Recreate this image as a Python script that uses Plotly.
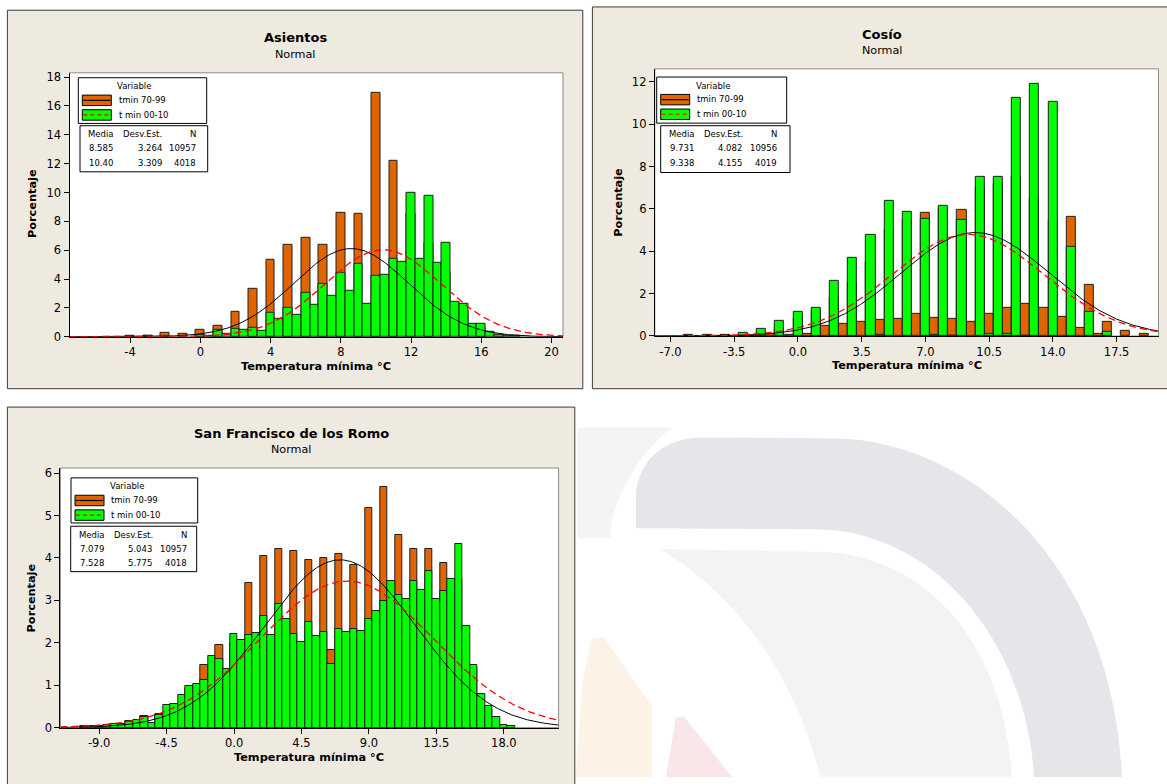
import numpy as np
import plotly.graph_objects as go

W, H = 1167, 784
FONT = "DejaVu Sans"

# ---------------- data ----------------
series_names = ["tmin 70-99", "t min 00-10"]
x_title = "Temperatura mínima °C"
y_title = "Porcentaje"
subtitle = "Normal"
legend_title = "Variable"
table_header = ["Media", "Desv.Est.", "N"]
BIN = 0.5

# Asientos
asientos_title = "Asientos"
asientos_orange_x = [-4, -3, -2, -1, 0, 1, 2, 3, 4, 5, 6, 7, 8, 9, 10, 11, 12, 13, 14, 15, 16, 17]
asientos_orange_y = [0.07, 0.03, 0.30, 0.23, 0.47, 0.73, 1.76, 3.29, 5.34, 6.37, 6.84, 6.37, 8.62, 8.51,
                     16.93, 12.18, 8.5, 6.5, 4.5, 1.8, 0.6, 0.1]
asientos_green_x = [-3, 0, 0.5, 1, 1.5, 2, 2.5, 3, 3.5, 4, 4.5, 5, 5.5, 6, 6.5, 7, 7.5, 8, 8.5, 9, 9.5,
                    10, 10.5, 11, 11.5, 12, 12.5, 13, 13.5, 14, 14.5, 15, 15.5, 16, 16.5, 17, 17.5, 18]
asientos_green_y = [0.05, 0.10, 0.07, 0.47, 0.23, 0.56, 0.47, 0.61, 0.40, 1.64, 1.23, 2.03, 1.50, 3.06, 2.19,
                    3.67, 2.87, 4.43, 3.19, 5.04, 2.28, 4.22, 4.29, 5.38, 5.20, 9.99, 5.41, 9.79, 5.11, 6.48,
                    2.44, 2.26, 0.89, 0.89, 0.32, 0.14, 0.05, 0.03]
asientos_mean = [8.585, 10.40]
asientos_sd = [3.264, 3.309]
asientos_n = [10957, 4018]
asientos_xticks = [-4, 0, 4, 8, 12, 16, 20]
asientos_xticklabels = ["-4", "0", "4", "8", "12", "16", "20"]
asientos_yticks = [0, 2, 4, 6, 8, 10, 12, 14, 16, 18]
asientos_yticklabels = ["0", "2", "4", "6", "8", "10", "12", "14", "16", "18"]

# Cosío
cosio_title = "Cosío"
cosio_orange_x = [-6, -5, -4, -3, -2.5, -2, -1.5, -1, -0.5, 0, 0.5, 1, 1.5, 2, 2.5, 3, 3.5, 4, 4.5, 5, 5.5,
                  6, 6.5, 7, 7.5, 8, 8.5, 9, 9.5, 10, 10.5, 11, 11.5, 12, 12.5, 13, 13.5, 14, 14.5, 15,
                  15.5, 16, 16.5, 17, 18, 19]
cosio_orange_y = [0.04, 0.04, 0.06, 0.10, 0.03, 0.20, 0.08, 0.40, 0.05, 0.80, 0.10, 1.20, 0.46, 1.80, 0.58,
                  2.50, 0.68, 3.50, 0.74, 5.00, 0.79, 5.50, 1.06, 5.83, 0.87, 6.00, 0.83, 5.94, 0.68, 7.00,
                  1.06, 7.20, 1.31, 7.50, 1.50, 6.50, 1.31, 5.50, 0.91, 5.63, 0.39, 2.41, 0.11, 0.65, 0.25,
                  0.10]
cosio_green_x = [-4, -3, -2, -1, 0, 1, 2, 3, 4, 4.5, 5, 6, 7, 7.5, 8, 8.5, 9, 10, 10.5, 11, 11.5, 12, 12.5,
                 13, 14, 15, 16, 17]
cosio_green_y = [0.02, 0.13, 0.35, 0.72, 1.15, 1.35, 2.60, 3.67, 4.77, 0.06, 6.40, 5.88, 5.55, 0.06, 6.17,
                 0.02, 5.47, 7.54, 0.11, 7.54, 0.11, 11.25, 0.03, 11.92, 11.07, 4.23, 1.12, 0.19]
cosio_mean = [9.731, 9.338]
cosio_sd = [4.082, 4.155]
cosio_n = [10956, 4019]
cosio_xticks = [-7.0, -3.5, 0.0, 3.5, 7.0, 10.5, 14.0, 17.5]
cosio_xticklabels = ["-7.0", "-3.5", "0.0", "3.5", "7.0", "10.5", "14.0", "17.5"]
cosio_yticks = [0, 2, 4, 6, 8, 10, 12]
cosio_yticklabels = ["0", "2", "4", "6", "8", "10", "12"]

# San Francisco de los Romo
sf_title = "San Francisco de los Romo"
sf_orange_x = [-10, -9, -8, -7, -6, -5, -4, -3, -2, -1, 0, 1, 2, 3, 4, 5, 6, 6.5, 7, 8, 9, 10, 11, 12, 13,
               14, 15, 16, 17]
sf_orange_y = [0.04, 0.05, 0.08, 0.15, 0.27, 0.33, 0.50, 0.90, 1.47, 1.95, 2.00, 3.41, 4.05, 4.20, 4.16,
               3.95, 4.00, 1.82, 4.09, 3.84, 5.17, 5.67, 4.55, 4.22, 4.20, 3.88, 3.50, 1.40, 0.45]
sf_green_x = [-10, -9.5, -9, -8.5, -8, -7.5, -7, -6.5, -6, -5.5, -5, -4.5, -4, -3.5, -3, -2.5, -2, -1.5,
              -1, -0.5, 0, 0.5, 1, 1.5, 2, 2.5, 3, 3.5, 4, 4.5, 5, 5.5, 6, 6.5, 7, 7.5, 8, 8.5, 9, 9.5,
              10, 10.5, 11, 11.5, 12, 12.5, 13, 13.5, 14, 14.5, 15, 15.5, 16, 16.5, 17, 17.5, 18, 18.5]
sf_green_y = [0.02, 0.03, 0.05, 0.06, 0.08, 0.09, 0.14, 0.17, 0.25, 0.11, 0.29, 0.54, 0.56, 0.77, 0.97,
              1.04, 1.12, 1.69, 1.62, 1.39, 2.21, 2.07, 2.19, 2.22, 2.64, 2.19, 2.92, 2.57, 2.21, 2.01,
              2.48, 2.16, 2.25, 1.50, 2.32, 2.25, 2.33, 2.28, 2.55, 2.74, 2.98, 3.45, 3.13, 3.04, 3.45,
              3.25, 3.70, 3.04, 3.22, 3.50, 4.34, 2.40, 1.47, 0.79, 0.50, 0.26, 0.07, 0.03]
sf_mean = [7.079, 7.528]
sf_sd = [5.043, 5.775]
sf_n = [10957, 4018]
sf_xticks = [-9.0, -4.5, 0.0, 4.5, 9.0, 13.5, 18.0]
sf_xticklabels = ["-9.0", "-4.5", "0.0", "4.5", "9.0", "13.5", "18.0"]
sf_yticks = [0, 1, 2, 3, 4, 5, 6]
sf_yticklabels = ["0", "1", "2", "3", "4", "5", "6"]

# ---------------- styles / layout (pixels) ----------------
ORANGE = "#E06400"
GREEN = "#00FF00"
BAR_LINE = "#1E1E1E"
PANEL_BG = "#EEEAE0"
PANEL_LINE = "#3C3C3C"

panels = [
    dict(title=asientos_title, ox=asientos_orange_x, oy=asientos_orange_y, gx=asientos_green_x,
         gy=asientos_green_y, mean=asientos_mean, sd=asientos_sd, n=asientos_n,
         xt=asientos_xticks, xtl=asientos_xticklabels, yt=asientos_yticks, ytl=asientos_yticklabels,
         frame=(7.4, 7.3, 582.8, 390.7), plot=(69.5, 70.7, 563, 338), xr=[-7.45, 20.65], yr=[0, 18.3],
         title_xy=(295, 35), sub_y=51.7, xtitle_xy=(316, 368), ytitle_xy=(32.6, 203),
         box1=(78.3, 75.7, 206.7, 122), box2=(80, 124.3, 207.7, 171)),
    dict(title=cosio_title, ox=cosio_orange_x, oy=cosio_orange_y, gx=cosio_green_x, gy=cosio_green_y,
         mean=cosio_mean, sd=cosio_sd, n=cosio_n,
         xt=cosio_xticks, xtl=cosio_xticklabels, yt=cosio_yticks, ytl=cosio_yticklabels,
         frame=(592.4, 4, 1175, 390.7), plot=(654.8, 66.7, 1158.5, 337.3), xr=[-7.86, 19.8], yr=[0, 12.62],
         title_xy=(882, 31.7), sub_y=48.3, xtitle_xy=(906.6, 367.3), ytitle_xy=(617.7, 201.7),
         box1=(656.7, 75, 786.7, 121.7), box2=(660.7, 124.3, 790, 171.7)),
    dict(title=sf_title, ox=sf_orange_x, oy=sf_orange_y, gx=sf_green_x, gy=sf_green_y,
         mean=sf_mean, sd=sf_sd, n=sf_n,
         xt=sf_xticks, xtl=sf_xticklabels, yt=sf_yticks, ytl=sf_yticklabels,
         frame=(7.4, 409.3, 574.8, 795), plot=(60.3, 471, 558.6, 734), xr=[-11.59, 21.65], yr=[0, 6.12],
         title_xy=(291, 436), sub_y=452.3, xtitle_xy=(309.5, 764.3), ytitle_xy=(31.4, 602.7),
         box1=(71, 481, 197.7, 526.7), box2=(70.7, 530, 196.7, 576)),
]


def X(p):
    return p / W


def Y(p):
    return 1 - p / H


shapes = []
annotations = []


def rect(x0, y0, x1, y1, fill, line=None, lw=1, layer="below"):
    shapes.append(dict(type="rect", xref="paper", yref="paper", x0=X(x0), x1=X(x1), y0=Y(y1), y1=Y(y0),
                       fillcolor=fill, line=dict(color=line or "rgba(0,0,0,0)", width=lw if line else 0),
                       layer=layer))


def hline(x0, x1, y, color, lw=1, dash="solid", layer="above"):
    shapes.append(dict(type="line", xref="paper", yref="paper", x0=X(x0), x1=X(x1), y0=Y(y), y1=Y(y),
                       line=dict(color=color, width=lw, dash=dash), layer=layer))


def path(cmds, fill):
    parts = []
    for c in cmds:
        op, pts = c[0], c[1:]
        parts.append(op + " " + " ".join(f"{X(a):.5f},{Y(b):.5f}" for a, b in pts))
    shapes.append(dict(type="path", xref="paper", yref="paper", path=" ".join(parts) + " Z",
                       fillcolor=fill, line=dict(width=0), layer="below"))


def text(x, y, s, size=8.5, bold=False, xanchor="center", angle=0, color="#000"):
    annotations.append(dict(x=X(x), y=Y(y), xref="paper", yref="paper", text=f"<b>{s}</b>" if bold else s,
                            showarrow=False, xanchor=xanchor, yanchor="middle", textangle=angle,
                            font=dict(family=FONT, size=size, color=color)))


# faint watermark in the lower-right (decorative background)
path([("M", (578, 430)), ("L", (672, 430)), ("C", (640, 455), (612, 500), (610, 542)), ("L", (578, 542))],
     "#F4F4F6")
path([("M", (636, 532)), ("L", (636, 498)), ("C", (638, 465), (662, 441), (700, 440)), ("L", (840, 441)),
      ("C", (970, 446), (1112, 565), (1122, 784)), ("L", (1034, 784)),
      ("C", (1026, 645), (935, 537), (820, 533))], "#E6E5EA")
path([("M", (660, 553)), ("L", (830, 556)), ("C", (935, 566), (1004, 655), (1012, 784)), ("L", (820, 784)),
      ("C", (798, 690), (742, 602), (660, 553))], "#F3F3F5")
path([("M", (592, 643)), ("L", (604, 643)), ("L", (652, 712)), ("L", (652, 784)), ("L", (576, 784)),
      ("L", (582, 690))], "#FDF2E6")
path([("M", (676, 723)), ("L", (684, 723)), ("L", (732, 784)), ("L", (666, 784))], "#F9E6E8")

fig = go.Figure()

for i, p in enumerate(panels):
    sfx = "" if i == 0 else str(i + 1)
    xa, ya = "x" + sfx, "y" + sfx
    fx0, fy0, fx1, fy1 = p["frame"]
    px0, py0, px1, py1 = p["plot"]
    rect(fx0, fy0, fx1, fy1, PANEL_BG, PANEL_LINE, 1)
    rect(px0, py0, px1, py1, "#FFFFFF", "#8A8A8A", 1)

    fig.add_trace(go.Bar(x=p["ox"], y=p["oy"], width=BIN, marker=dict(color=ORANGE, line=dict(color=BAR_LINE, width=1)),
                         xaxis=xa, yaxis=ya, showlegend=False, hoverinfo="skip"))
    fig.add_trace(go.Bar(x=p["gx"], y=p["gy"], width=BIN, marker=dict(color=GREEN, line=dict(color=BAR_LINE, width=1)),
                         xaxis=xa, yaxis=ya, showlegend=False, hoverinfo="skip"))
    xs = np.linspace(p["xr"][0], p["xr"][1], 400)
    for k, (col, dash, lw) in enumerate([("#000000", "solid", 1), ("#FF0000", "7px,4px", 1.3)]):
        m, s = p["mean"][k], p["sd"][k]
        ys = 100 * BIN * np.exp(-0.5 * ((xs - m) / s) ** 2) / (s * np.sqrt(2 * np.pi))
        fig.add_trace(go.Scatter(x=xs, y=ys, mode="lines", line=dict(color=col, width=lw, dash=dash),
                                 xaxis=xa, yaxis=ya, showlegend=False, hoverinfo="skip"))

    axis_common = dict(showgrid=False, zeroline=False, showline=True, linecolor="#000", linewidth=1,
                       ticks="outside", ticklen=5, tickcolor="#000", tickwidth=1,
                       tickfont=dict(family=FONT, size=11.5, color="#000"), fixedrange=True)
    fig.update_layout(**{
        ("xaxis" + sfx): dict(domain=[X(px0), X(px1)], range=p["xr"], tickvals=p["xt"], ticktext=p["xtl"],
                              anchor=ya, **axis_common),
        ("yaxis" + sfx): dict(domain=[Y(py1), Y(py0)], range=p["yr"], tickvals=p["yt"], ticktext=p["ytl"],
                              anchor=xa, **axis_common),
    })

    tx, ty = p["title_xy"]
    text(tx, ty, p["title"], size=13, bold=True)
    text(tx, p["sub_y"], subtitle, size=11.2)
    text(*p["xtitle_xy"], x_title, size=11.3, bold=True)
    text(*p["ytitle_xy"], y_title, size=11.3, bold=True, angle=-90)

    # legend box
    b1x0, b1y0, b1x1, b1y1 = p["box1"]
    rect(b1x0, b1y0, b1x1, b1y1, "#FFFFFF", "#000000", 1, layer="above")
    text(b1x0 + 56, b1y0 + 8.6, legend_title)
    for k, (fill, lcol, dash) in enumerate([(ORANGE, "#000000", "solid"), (GREEN, "#FF0000", "4px,3px")]):
        sy0 = b1y0 + 17.6 + k * 14.8
        rect(b1x0 + 4, sy0, b1x0 + 33, sy0 + 10.6, fill, "#000000", 1, layer="above")
        hline(b1x0 + 5, b1x0 + 32, sy0 + 5.3, lcol, 1.2, dash)
        text(b1x0 + 38.4, sy0 + 5.0, series_names[k], xanchor="left")

    # statistics table
    b2x0, b2y0, b2x1, b2y1 = p["box2"]
    rect(b2x0, b2y0, b2x1, b2y1, "#FFFFFF", "#000000", 1, layer="above")
    text(b2x0 + 21, b2y0 + 8.5, table_header[0])
    text(b2x0 + 62.5, b2y0 + 8.5, table_header[1])
    text(b2x0 + 118, b2y0 + 8.5, table_header[2], xanchor="right")
    for k in range(2):
        ry = b2y0 + 23 + k * 14.6
        text(b2x0 + 21, ry, f"{p['mean'][k]:#.4g}")
        text(b2x0 + 83.5, ry, f"{p['sd'][k]:#.4g}", xanchor="right")
        text(b2x0 + 118, ry, str(p["n"][k]), xanchor="right")

fig.update_layout(width=W, height=H, margin=dict(l=0, r=0, t=0, b=0), barmode="overlay",
                  paper_bgcolor="#FFFFFF", plot_bgcolor="rgba(0,0,0,0)", shapes=shapes,
                  annotations=annotations, showlegend=False, bargap=0)

fig.write_html("out.html")
